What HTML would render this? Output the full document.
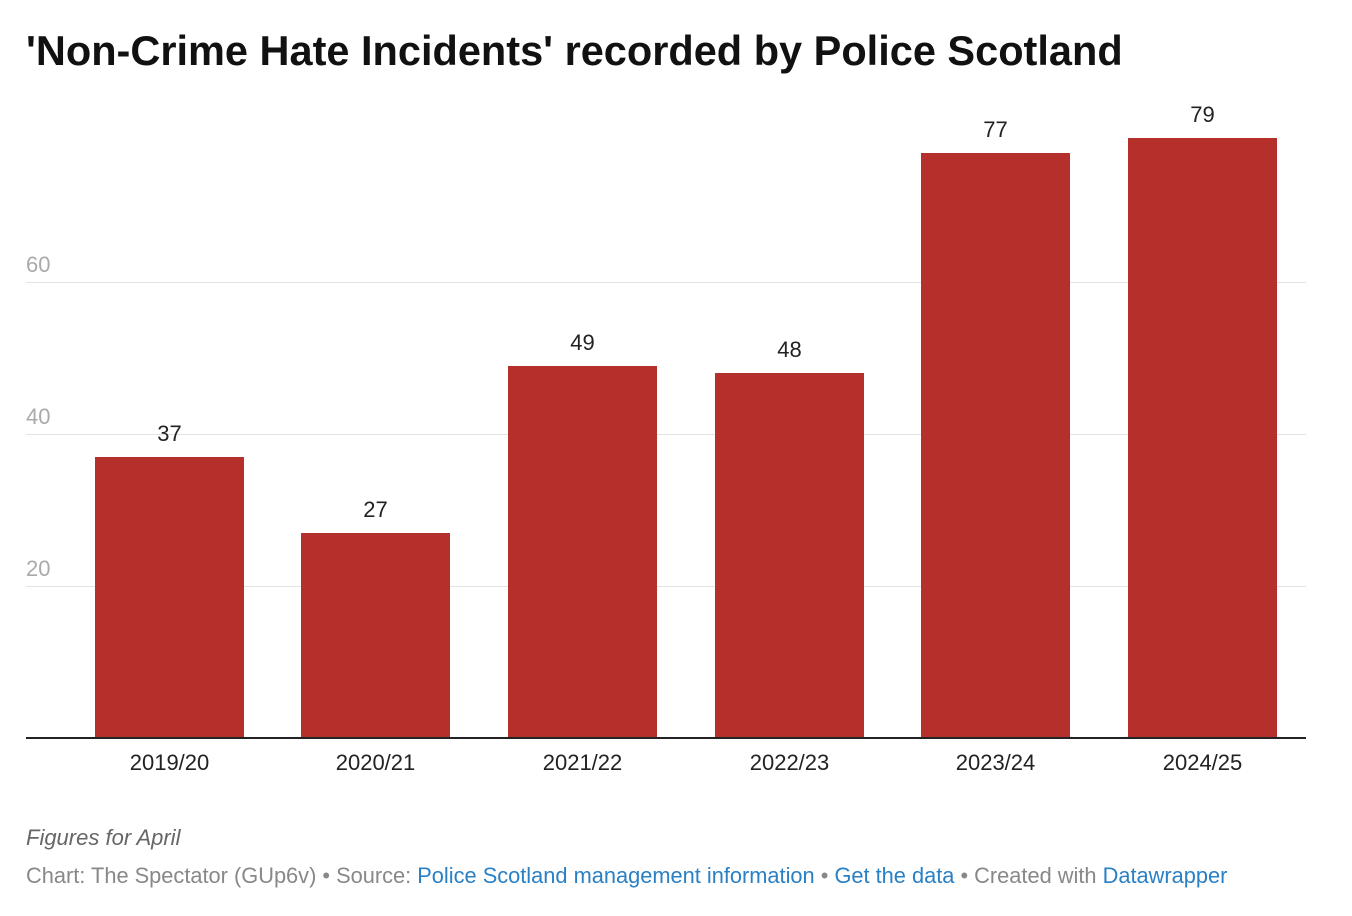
<!DOCTYPE html>
<html><head><meta charset="utf-8"><style>
body{margin:0;width:1352px;height:916px;background:#fff;font-family:"Liberation Sans",Arial,sans-serif;position:relative;overflow:hidden}
.t{position:absolute;white-space:nowrap}
.g{position:absolute;left:26px;width:1280px;height:1px;background:#e3e3e3}
.bar{position:absolute;background:#b5302a;width:149px}
.v{position:absolute;width:149px;text-align:center;font-size:22px;color:#222}
.c{position:absolute;width:149px;text-align:center;font-size:22px;color:#222;top:750px}
.y{position:absolute;left:26px;font-size:22px;color:#aaa}
a{color:#2a80c5;text-decoration:none}
</style></head><body>
<div class="t" style="left:26px;top:27px;font-size:41.5px;font-weight:bold;color:#111">'Non-Crime Hate Incidents' recorded by Police Scotland</div>
<div class="g" style="top:282px"></div>
<div class="g" style="top:434px"></div>
<div class="g" style="top:586px"></div>
<div class="y" style="top:252px">60</div>
<div class="y" style="top:404px">40</div>
<div class="y" style="top:556px">20</div>
<div class="bar" style="left:95px;top:457px;height:281px"></div>
<div class="bar" style="left:301px;top:533px;height:205px"></div>
<div class="bar" style="left:508px;top:366px;height:372px"></div>
<div class="bar" style="left:715px;top:373px;height:365px"></div>
<div class="bar" style="left:921px;top:153px;height:585px"></div>
<div class="bar" style="left:1128px;top:138px;height:600px"></div>
<div class="v" style="left:95px;top:421px">37</div>
<div class="v" style="left:301px;top:497px">27</div>
<div class="v" style="left:508px;top:330px">49</div>
<div class="v" style="left:715px;top:337px">48</div>
<div class="v" style="left:921px;top:117px">77</div>
<div class="v" style="left:1128px;top:102px">79</div>
<div style="position:absolute;left:26px;top:737px;width:1280px;height:2px;background:#222"></div>
<div class="c" style="left:95px">2019/20</div>
<div class="c" style="left:301px">2020/21</div>
<div class="c" style="left:508px">2021/22</div>
<div class="c" style="left:715px">2022/23</div>
<div class="c" style="left:921px">2023/24</div>
<div class="c" style="left:1128px">2024/25</div>
<div class="t" style="left:26px;top:825px;font-size:22px;font-style:italic;color:#666">Figures for April</div>
<div class="t" style="left:26px;top:863px;font-size:21.8px;color:#888">Chart: The Spectator (GUp6v) • Source: <a>Police Scotland management information</a> • <a>Get the data</a> • Created with <a>Datawrapper</a></div>
</body></html>
